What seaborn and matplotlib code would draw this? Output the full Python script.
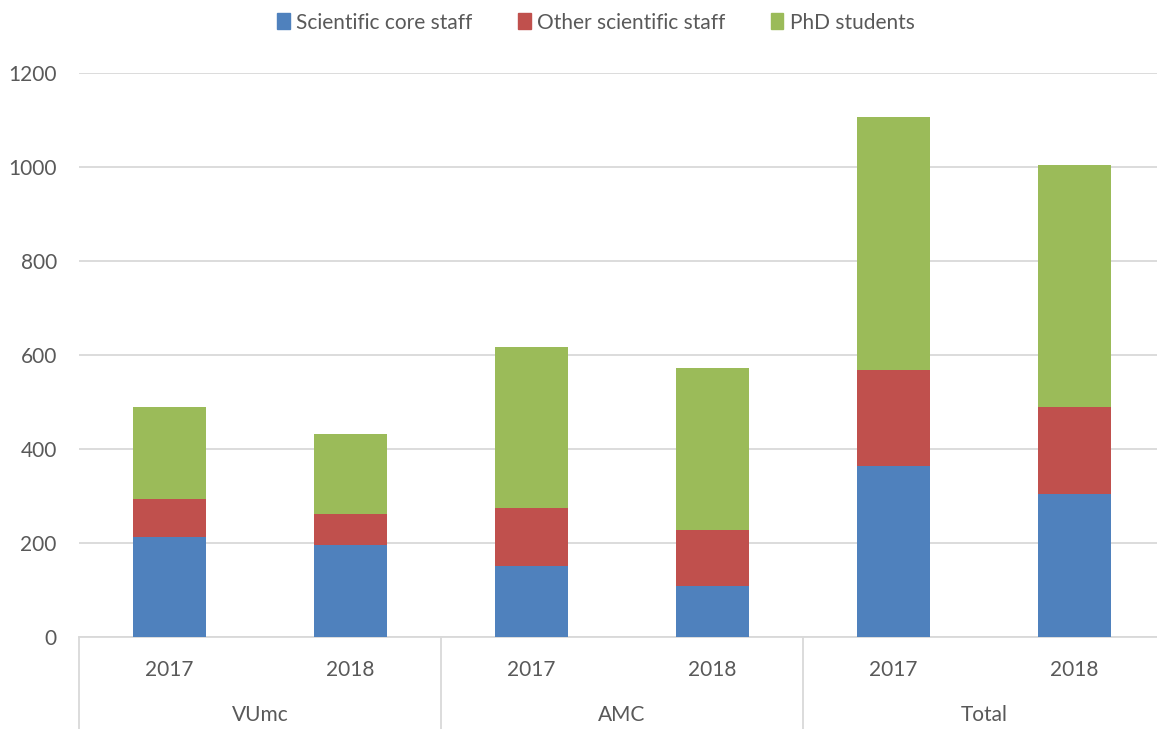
import numpy as np
import pandas as pd
import matplotlib.pyplot as plt
import seaborn as sns

# Data
groups = ["VUmc", "VUmc", "AMC", "AMC", "Total", "Total"]
years = ["2017", "2018", "2017", "2018", "2017", "2018"]
core_staff = [213, 196, 150, 109, 364, 305]
other_staff = [80, 65, 124, 119, 203, 184]
phd_students = [196, 170, 342, 343, 539, 514]

series_names = ["Scientific core staff", "Other scientific staff", "PhD students"]
colors = ["#4F81BD", "#C0504D", "#9BBB59"]
text_color = "#595959"
grid_color = "#D9D9D9"

sns.set_style("white")
plt.rcParams["font.family"] = ["Lato", "DejaVu Sans"]

df = pd.DataFrame({
    "cat": [f"{g} {y}" for g, y in zip(groups, years)],
    "core": core_staff,
    "other": other_staff,
    "phd": phd_students,
})
# cumulative tops for stacking
df["lvl1"] = df["core"]
df["lvl2"] = df["core"] + df["other"]
df["lvl3"] = df["lvl2"] + df["phd"]
order = list(df["cat"])

fig = plt.figure(figsize=(11.57, 7.29), dpi=100)
ax = fig.add_axes([0.0683, 0.1262, 0.9386, 0.7743])

# draw tallest first so lower segments sit on top
for col, c in zip(["lvl3", "lvl2", "lvl1"], colors[::-1]):
    sns.barplot(data=df, x="cat", y=col, order=order, color=c, width=0.4,
                saturation=1, linewidth=0, ax=ax, zorder=3)

ax.set_ylim(0, 1200)
ax.set_xlim(-0.5, 5.5)
ax.set_yticks(np.arange(0, 1201, 200))
ax.yaxis.grid(True, color=grid_color, linewidth=1.3, zorder=0)
ax.set_axisbelow(True)
for s in ["left", "right", "top"]:
    ax.spines[s].set_visible(False)
ax.spines["bottom"].set_color(grid_color)
ax.spines["bottom"].set_linewidth(1.3)

ax.set_xticks(range(len(years)))
ax.set_xticklabels(years)
ax.set_xlabel("")
ax.set_ylabel("")
ax.tick_params(axis="x", length=0, pad=16.5, labelsize=15, labelcolor=text_color)
ax.tick_params(axis="y", length=0, pad=16, labelsize=15, labelcolor=text_color)

# group labels and separators below the axis
trans = ax.get_xaxis_transform()
for i, g in enumerate(["VUmc", "AMC", "Total"]):
    ax.text(2 * i + 0.5, -0.138, g, transform=trans, ha="center", va="center",
            fontsize=15, color=text_color)
for xs in [-0.5, 1.5, 3.5, 5.5]:
    ax.plot([xs, xs], [0, -0.2], transform=trans, color=grid_color,
            linewidth=1.3, clip_on=False)

handles = [plt.Rectangle((0, 0), 1, 1, color=c) for c in colors]
fig.legend(handles, series_names, loc="center", bbox_to_anchor=(0.515, 0.969),
           ncol=3, frameon=False, fontsize=15, handlelength=0.6, handleheight=0.8,
           handletextpad=0.3, columnspacing=2.2, labelcolor=text_color)

fig.savefig("out.png", dpi=100)
